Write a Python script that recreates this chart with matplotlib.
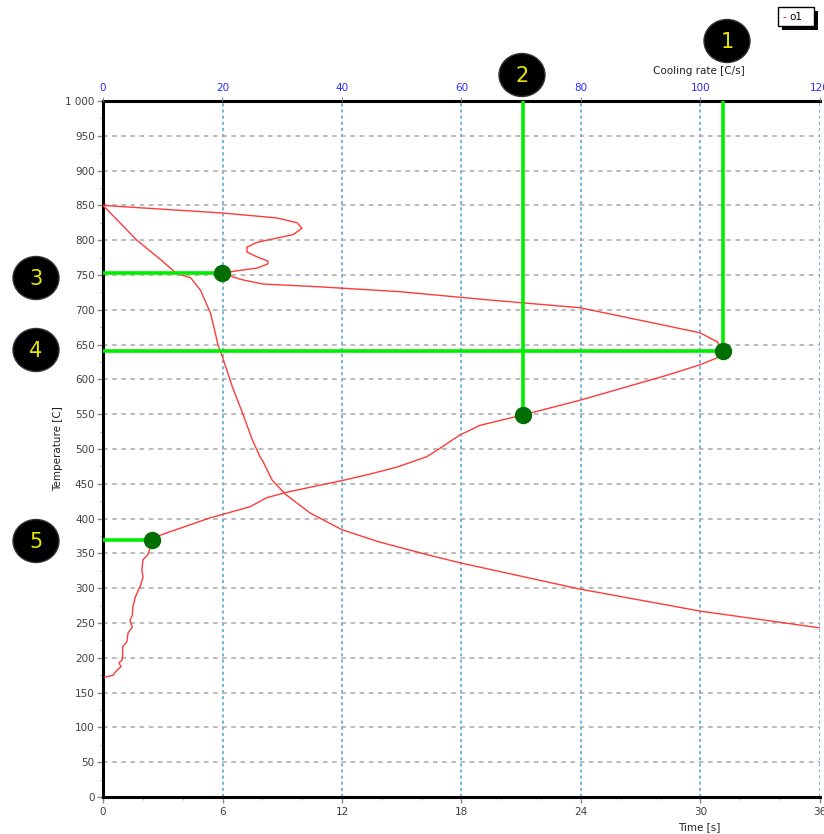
import matplotlib
matplotlib.use("Agg")
import matplotlib.pyplot as plt
import matplotlib.patches as patches
from matplotlib.ticker import FuncFormatter, MultipleLocator, AutoMinorLocator

# Cooling curve: temperature vs time
time_s = [0, 1.7, 2.9, 3.7, 4.4, 4.9, 5.4, 5.8, 6.0, 6.5, 7.0, 7.5, 7.9, 8.0,
          8.5, 9.2, 10.4, 12.0, 13.8, 16.3, 18.0, 23.9, 30.0, 36.0]
temp_time = [850, 800, 772, 752, 746, 728, 695, 647, 632, 589, 552, 513, 488, 484,
             455, 434, 408, 384, 367, 348, 336, 299, 267, 243]

# Cooling rate vs temperature
rate = [0, 20.1, 29.1, 32.5, 33.3, 31.8, 28.5, 25.8, 24.1, 24.1, 25.8, 27.6, 27.6, 25.8,
        22.4, 20.1, 21.8, 23.4, 26.8, 36.3, 49.7, 64.8, 79.8, 89.9, 99.9, 102.8, 103.8,
        102.8, 99.9, 94.4, 79.8, 70.3, 63.1, 59.7, 56.4, 54.2, 49.2, 44.7, 40.2, 36.3,
        30.8, 27.4, 24.6, 19.6, 17.9, 9.5, 8.2, 7.9, 7.5, 6.7, 6.5, 6.7, 6.2, 5.9, 5.4,
        5.0, 4.9, 4.5, 4.9, 4.2, 4.0, 3.3, 3.3, 3.2, 2.7, 3.0, 2.3, 1.7, 0.3]
temp_rate = [850, 839, 832, 825, 817, 808, 802, 797, 790, 783, 776, 770, 766, 760,
             756, 753, 747, 743, 737, 733, 726, 714, 703, 685, 667, 654, 641,
             631, 621, 606, 570, 549, 534, 520, 501, 489, 474, 464, 455, 448,
             438, 430, 417, 405, 401, 376, 369, 359, 348, 341, 326, 316, 302, 297, 287,
             273, 261, 254, 244, 236, 223, 216, 207, 197, 193, 187, 182, 175, 172]

# Marked points (cooling rate, temperature) and which guide lines they get
mark_rate = [20.0, 103.8, 70.3, 8.2]
mark_temp = [753, 641, 549, 369]
mark_hline = [True, True, False, True]
mark_vline = [False, True, True, False]

time_ticks = [0, 6, 12, 18, 24, 30, 36]
rate_ticks = [0, 20, 40, 60, 80, 100, 120]

W, H = 824, 834
fig = plt.figure(figsize=(W / 100, H / 100), dpi=100)
fig.patch.set_facecolor('white')

ax = fig.add_axes([103 / W, 37 / H, 717 / W, 696 / H])
ax.set_xlim(0, 36)
ax.set_ylim(0, 1000)
ax.set_xticks(time_ticks)
ax.yaxis.set_major_locator(MultipleLocator(50))
ax.xaxis.set_minor_locator(AutoMinorLocator(3))
ax.yaxis.set_minor_locator(AutoMinorLocator(2))
ax.yaxis.set_major_formatter(FuncFormatter(lambda v, p: '1 000' if v == 1000 else f'{int(v)}'))

ax.grid(axis='x', color='#4a9fd4', linestyle=(0, (2, 2)), lw=1.1)
ax.grid(axis='y', color='#a8a8a8', linestyle=(0, (3, 3)), lw=1.1)
ax.set_axisbelow(True)

for side in ['left', 'top', 'bottom']:
    ax.spines[side].set_color('black')
    ax.spines[side].set_linewidth(2.2)
ax.spines['right'].set_visible(False)

ax.tick_params(axis='both', which='major', direction='out', length=4, color='#888888',
               labelsize=7.5, labelcolor='#404040', width=1)
ax.tick_params(axis='both', which='minor', direction='out', length=2, color='#aaaaaa')
ax.tick_params(axis='x', pad=3)
ax.tick_params(axis='y', pad=2)

ax.plot(time_s, temp_time, color='#ff3a3a', lw=1, zorder=3)

ax2 = ax.twiny()
ax2.set_xlim(0, 120)
ax2.set_xticks(rate_ticks)
ax2.xaxis.set_minor_locator(AutoMinorLocator(4))
for side in ax2.spines:
    ax2.spines[side].set_visible(False)
ax2.tick_params(axis='x', which='major', direction='out', length=3, color='#888888',
                labelsize=7.5, labelcolor='#2a2aff', pad=3)
ax2.tick_params(axis='x', which='minor', length=0)

ax2.plot(rate, temp_rate, color='#ff3a3a', lw=1, zorder=3)

for r, t, hl, vl in zip(mark_rate, mark_temp, mark_hline, mark_vline):
    if hl:
        ax2.plot([0, r], [t, t], color='#00ee00', lw=2.6, solid_capstyle='butt', zorder=4)
    if vl:
        ax2.plot([r, r], [t, 1000], color='#00ee00', lw=2.6, solid_capstyle='butt', zorder=4)
ax2.plot(mark_rate, mark_temp, 'o', color='#006f00', markersize=11.5, zorder=5)

fig.text(699 / W, 1 - 71 / H, 'Cooling rate [C/s]', ha='center', va='center',
         fontsize=7.5, color='#202020')
fig.text(699 / W, 1 - 827 / H, 'Time [s]', ha='center', va='center',
         fontsize=7.5, color='#202020')
fig.text(58 / W, 1 - 449 / H, 'Temperature [C]', ha='center', va='center',
         rotation=90, fontsize=7.5, color='#202020')

# overlay in pixel units for the numbered callouts and the series box
ov = fig.add_axes([0, 0, 1, 1])
ov.set_xlim(0, W)
ov.set_ylim(H, 0)
ov.axis('off')

callouts = [('1', 727, 41), ('2', 522, 75), ('3', 36, 278), ('4', 36, 350), ('5', 36, 541)]
for label, cx, cy in callouts:
    ov.add_patch(patches.Ellipse((cx, cy), 46, 43, facecolor='black', edgecolor='#333333', lw=1))
    ov.text(cx, cy + 1, label, ha='center', va='center', fontsize=15, color='#e6e600')

ov.add_patch(patches.Rectangle((782, 11), 36, 19, facecolor='black', edgecolor='none'))
ov.add_patch(patches.Rectangle((778, 7), 36, 19, facecolor='white', edgecolor='black', lw=1))
ov.text(783, 17, '-', ha='left', va='center', fontsize=7, color='red')
ov.text(789, 17, 'o1', ha='left', va='center', fontsize=7.5, color='black')

fig.savefig('out.png', dpi=100)
